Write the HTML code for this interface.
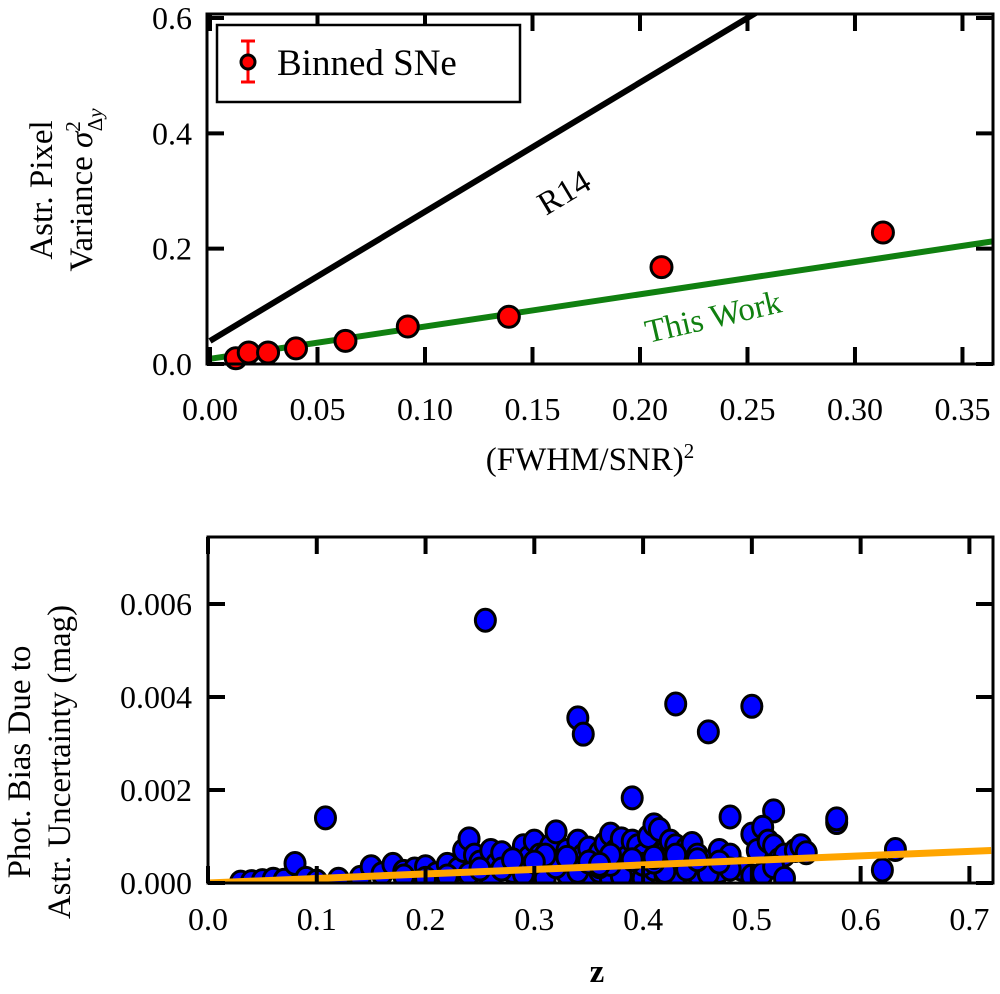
<!DOCTYPE html>
<html><head><meta charset="utf-8"><style>
html,body{margin:0;padding:0;background:#fff;}
svg{display:block;font-family:"Liberation Serif",serif;}
</style></head><body>
<svg id="chart" width="1000" height="994" viewBox="0 0 1000 994" xmlns="http://www.w3.org/2000/svg"></svg>
<script>
// ---- top panel data ----
const topXTicks = [0.00,0.05,0.10,0.15,0.20,0.25,0.30,0.35];
const topXTickLabels = ["0.00","0.05","0.10","0.15","0.20","0.25","0.30","0.35"];
const topYTicks = [0.0,0.2,0.4,0.6];
const topYTickLabels = ["0.0","0.2","0.4","0.6"];
const binnedX = [0.012,0.018,0.027,0.040,0.063,0.092,0.139,0.210,0.313];
const binnedY = [0.010,0.020,0.020,0.027,0.040,0.065,0.082,0.168,0.228];
const r14Line = [[0,0.040],[0.37,0.869]];
const thisWorkLine = [[0,0.009],[0.37,0.216]];
// ---- bottom panel data ----
const botXTicks = [0.0,0.1,0.2,0.3,0.4,0.5,0.6,0.7];
const botXTickLabels = ["0.0","0.1","0.2","0.3","0.4","0.5","0.6","0.7"];
const botYTicks = [0,0.002,0.004,0.006];
const botYTickLabels = ["0.000","0.002","0.004","0.006"];
const snZ = [0.255,0.340,0.345,0.430,0.460,0.500,0.390,0.108,0.480,0.520,0.578,0.578,0.620,0.632,
0.03,0.04,0.05,0.06,0.07,0.08,0.09,0.10,0.12,0.14,0.15,0.16,0.17,0.18,0.19,0.20,0.21,0.22,0.23,0.235,0.24,0.245,0.25,0.26,0.265,0.27,0.28,0.29,0.295,0.30,0.305,0.31,0.315,0.32,0.325,0.33,0.335,0.34,0.345,0.35,0.355,0.36,0.365,0.37,0.375,0.38,0.385,0.39,0.395,0.40,0.405,0.41,0.415,0.42,0.425,0.43,0.435,0.44,0.445,0.45,0.455,0.46,0.47,0.475,0.48,0.49,0.50,0.505,0.51,0.515,0.52,0.525,0.53,0.54,0.545,0.55,
0.18,0.20,0.24,0.26,0.28,0.30,0.31,0.33,0.35,0.36,0.37,0.38,0.39,0.40,0.41,0.42,0.43,0.44,0.45,0.47,0.48,0.50,0.51,0.52,0.53,0.27,0.29,0.34,0.36,0.38,0.40,0.42,0.44,0.46,0.41,0.37,0.32,0.22,0.25,
0.28,0.31,0.33,0.35,0.37,0.39,0.41,0.43,0.45,0.47,0.36,0.30];
const snBias = [0.00565,0.00355,0.00320,0.00385,0.00325,0.00380,0.00183,0.00140,0.00142,0.00155,0.00130,0.00138,0.00028,0.00072,
0.00002,0.00003,0.00005,0.00008,0.00006,0.00042,0.00010,0.00004,0.00008,0.00012,0.00035,0.00020,0.00040,0.00025,0.00030,0.00035,0.00020,0.00040,0.00030,0.00070,0.00095,0.00060,0.00045,0.00070,0.00040,0.00065,0.00050,0.00080,0.00055,0.00090,0.00060,0.00045,0.00080,0.00110,0.00050,0.00070,0.00040,0.00090,0.00060,0.00075,0.00050,0.00065,0.00085,0.00105,0.00070,0.00095,0.00055,0.00090,0.00080,0.00060,0.00100,0.00125,0.00115,0.00065,0.00090,0.00080,0.00045,0.00075,0.00085,0.00060,0.00040,0.00045,0.00070,0.00035,0.00060,0.00030,0.00105,0.00070,0.00120,0.00090,0.00080,0.00050,0.00060,0.00070,0.00080,0.00065,
0.00015,0.00010,0.00020,0.00012,0.00025,0.00030,0.00010,0.00020,0.00015,0.00025,0.00010,0.00030,0.00020,0.00010,0.00030,0.00020,0.00015,0.00035,0.00020,0.00025,0.00030,0.00015,0.00020,0.00035,0.00010,0.00030,0.00020,0.00025,0.00035,0.00015,0.00040,0.00025,0.00030,0.00020,0.00045,0.00040,0.00035,0.00015,0.00030,
0.00050,0.00060,0.00055,0.00045,0.00060,0.00050,0.00055,0.00060,0.00050,0.00045,0.00040,0.00045];
const orangeLine = [[0,0],[0.72,0.00070]];

const NS="http://www.w3.org/2000/svg";
const svg=document.getElementById('chart');
function mk(tag,attrs,parent){const e=document.createElementNS(NS,tag);for(const k in attrs)e.setAttribute(k,attrs[k]);(parent||svg).appendChild(e);return e;}

// top axes
const T={x0:207,x1:993,y0:364,y1:14,xmin:-0.0014,xmax:0.3642,ymin:0,ymax:0.607};
const tx=v=>T.x0+(v-T.xmin)/(T.xmax-T.xmin)*(T.x1-T.x0);
const ty=v=>T.y0-(v-T.ymin)/(T.ymax-T.ymin)*(T.y0-T.y1);
const B={x0:208,x1:993,y0:883,y1:537,xmin:0,xmax:0.7217,ymin:0,ymax:0.00744};
const bx=v=>B.x0+(v-B.xmin)/(B.xmax-B.xmin)*(B.x1-B.x0);
const by=v=>B.y0-(v-B.ymin)/(B.ymax-B.ymin)*(B.y0-B.y1);

const gTop=mk('g',{});


const cpT=mk('clipPath',{id:'cpT'});mk('rect',{x:T.x0,y:T.y1,width:T.x1-T.x0,height:T.y0-T.y1},cpT);
let l=mk('line',{x1:tx(r14Line[0][0]),y1:ty(r14Line[0][1]),x2:tx(r14Line[1][0]),y2:ty(r14Line[1][1]),stroke:'#000','stroke-width':6,'clip-path':'url(#cpT)'},gTop);


l=mk('line',{x1:tx(thisWorkLine[0][0]),y1:ty(thisWorkLine[0][1]),x2:tx(thisWorkLine[1][0]),y2:ty(thisWorkLine[1][1]),stroke:'#108010','stroke-width':6,'clip-path':'url(#cpT)'},gTop);


binnedX.forEach((x,i)=>{const c=mk('circle',{cx:tx(x),cy:ty(binnedY[i]),r:10.5,fill:'#ff0000',stroke:'#000','stroke-width':3},gTop);

});
let f=mk('rect',{x:T.x0,y:T.y1,width:T.x1-T.x0,height:T.y0-T.y1,fill:'none',stroke:'#000','stroke-width':3},gTop);


topXTicks.forEach((v,i)=>{const x=tx(v);
mk('line',{x1:x,y1:T.y0,x2:x,y2:T.y0-17,stroke:'#000','stroke-width':4},gTop);
mk('line',{x1:x,y1:T.y1,x2:x,y2:T.y1+17,stroke:'#000','stroke-width':4},gTop);
const t=mk('text',{x:x,y:420,'font-size':32,'text-anchor':'middle'},gTop);t.textContent=topXTickLabels[i];

});
topYTicks.forEach((v,i)=>{const y=ty(v);
mk('line',{x1:T.x0,y1:y,x2:T.x0+17,y2:y,stroke:'#000','stroke-width':4},gTop);
mk('line',{x1:T.x1,y1:y,x2:T.x1-17,y2:y,stroke:'#000','stroke-width':4},gTop);
const t=mk('text',{x:192,y:y+11,'font-size':32,'text-anchor':'end'},gTop);t.textContent=topYTickLabels[i];

});
let a=mk('text',{x:0,y:0,'font-size':33,transform:'translate(546,216) rotate(-31)'},gTop);a.textContent='R14';


a=mk('text',{x:0,y:0,'font-size':33,fill:'#108010',transform:'translate(648,343) rotate(-13)'},gTop);a.textContent='This Work';


a=mk('text',{x:590,y:470,'font-size':33,'text-anchor':'middle'},gTop);a.innerHTML='(FWHM/SNR)<tspan dy="-12" font-size="21">2</tspan>';


a=mk('text',{x:0,y:0,'font-size':33,'text-anchor':'middle',transform:'translate(52,190) rotate(-90)'},gTop);a.textContent='Astr. Pixel';


a=mk('text',{x:0,y:0,'font-size':33,'text-anchor':'middle',transform:'translate(92,190) rotate(-90)'},gTop);a.innerHTML='Variance <tspan font-style="italic">σ</tspan><tspan dy="-12" font-size="21">2</tspan><tspan dy="22" dx="-10" font-size="21">Δ</tspan><tspan font-size="21" font-style="italic">y</tspan>';


const lg=mk('g',{},gTop);


mk('rect',{x:217,y:25,width:303,height:77,fill:'#fff',stroke:'#000','stroke-width':2.5},lg);
mk('line',{x1:248,y1:41,x2:248,y2:82,stroke:'#ff0000','stroke-width':3},lg);
mk('line',{x1:241,y1:41,x2:255,y2:41,stroke:'#ff0000','stroke-width':3},lg);
mk('line',{x1:241,y1:82,x2:255,y2:82,stroke:'#ff0000','stroke-width':3},lg);
mk('circle',{cx:248,cy:62,r:7,fill:'#ff0000',stroke:'#000','stroke-width':3},lg);
a=mk('text',{x:277,y:75,'font-size':37},lg);a.textContent='Binned SNe';



// bottom panel
const gB=mk('g',{});


const cpB=mk('clipPath',{id:'cpB'});mk('rect',{x:B.x0,y:B.y1,width:B.x1-B.x0,height:B.y0-B.y1},cpB);
snZ.forEach((z,i)=>{const c=mk('ellipse',{cx:bx(z),cy:by(snBias[i]),rx:10,ry:11,fill:'#0000ff',stroke:'#000','stroke-width':3,'clip-path':'url(#cpB)'},gB);

});
l=mk('line',{x1:bx(orangeLine[0][0]),y1:by(orangeLine[0][1]),x2:bx(orangeLine[1][0]),y2:by(orangeLine[1][1]),stroke:'#ffa500','stroke-width':7,'clip-path':'url(#cpB)'},gB);


f=mk('rect',{x:B.x0,y:B.y1,width:B.x1-B.x0,height:B.y0-B.y1,fill:'none',stroke:'#000','stroke-width':3},gB);


botXTicks.forEach((v,i)=>{const x=bx(v);
mk('line',{x1:x,y1:B.y0,x2:x,y2:B.y0-17,stroke:'#000','stroke-width':4},gB);
mk('line',{x1:x,y1:B.y1,x2:x,y2:B.y1+17,stroke:'#000','stroke-width':4},gB);
const t=mk('text',{x:x,y:930,'font-size':32,'text-anchor':'middle'},gB);t.textContent=botXTickLabels[i];

});
botYTicks.forEach((v,i)=>{const y=by(v);
mk('line',{x1:B.x0,y1:y,x2:B.x0+17,y2:y,stroke:'#000','stroke-width':4},gB);
mk('line',{x1:B.x1,y1:y,x2:B.x1-17,y2:y,stroke:'#000','stroke-width':4},gB);
const t=mk('text',{x:192,y:y+11,'font-size':32,'text-anchor':'end'},gB);t.textContent=botYTickLabels[i];

});
a=mk('text',{x:597,y:982,'font-size':33,'font-weight':'bold','text-anchor':'middle'},gB);a.textContent='z';


a=mk('text',{x:0,y:0,'font-size':33,'text-anchor':'middle',transform:'translate(30,762) rotate(-90)'},gB);a.textContent='Phot. Bias Due to';


a=mk('text',{x:0,y:0,'font-size':33,'text-anchor':'middle',transform:'translate(70,762) rotate(-90)'},gB);a.textContent='Astr. Uncertainty (mag)';


</script>
</body></html>
